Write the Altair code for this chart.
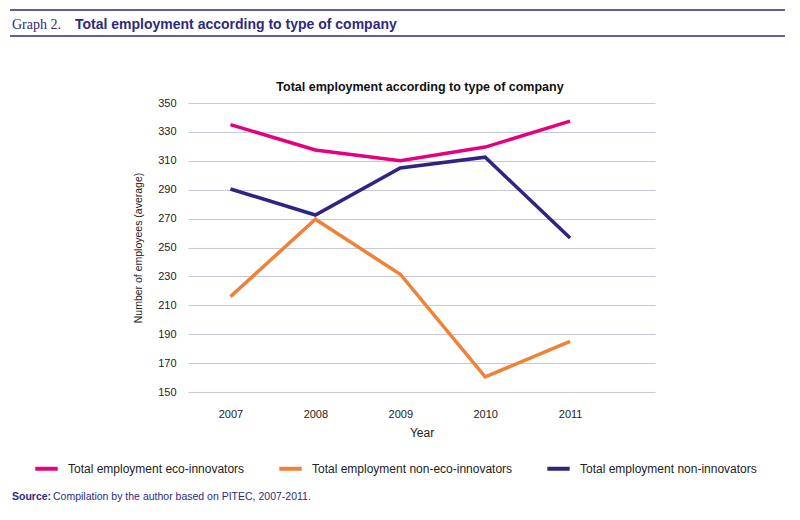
import altair as alt
import pandas as pd

years = [2007, 2008, 2009, 2010, 2011]
eco = [335, 317.5, 310, 319.5, 337.5]
non_eco = [216, 269.5, 231.5, 160.5, 185]
non_innov = [290.5, 272.5, 305, 312.5, 256.5]
series = ["Total employment eco-innovators", "Total employment non-eco-innovators", "Total employment non-innovators"]
colors = ["#e5007d", "#ef8239", "#2f2580"]

rows = []
for s, vals in zip(series, [eco, non_eco, non_innov]):
    for y, v in zip(years, vals):
        rows.append({"Year": y, "value": v, "series": s})
df = pd.DataFrame(rows)

F = "Liberation Sans"
PUR = "#2f2a7c"

lines = alt.Chart(df).mark_line(strokeWidth=3.5).encode(
    x=alt.X("Year:Q", scale=alt.Scale(domain=[2006.5, 2012]),
            axis=alt.Axis(values=years, format="d", grid=False, domain=False, ticks=False,
                          labelPadding=16, labelFontSize=11, labelFont=F, labelColor="#222",
                          title="Year", titleFont=F, titleFontSize=12, titleFontWeight="normal",
                          titlePadding=8, titleColor="#222")),
    y=alt.Y("value:Q", scale=alt.Scale(domain=[150, 350], nice=False, zero=False),
            axis=alt.Axis(values=list(range(150, 351, 20)), domain=False, ticks=False,
                          gridColor="#c9c6de", gridWidth=1, labelPadding=12, labelFontSize=11,
                          labelFont=F, labelColor="#222",
                          title="Number of employees (average)", titleFont=F, titleFontSize=10.5,
                          titleFontWeight="normal", titlePadding=14, titleColor="#222")),
    color=alt.Color("series:N", scale=alt.Scale(domain=series, range=colors),
                    legend=alt.Legend(title=None, orient="none", legendX=-155, legendY=352,
                                      direction="horizontal", columns=3, symbolType="stroke",
                                      symbolStrokeWidth=4, symbolSize=500, labelFont=F,
                                      labelFontSize=12, labelColor="#222", columnPadding=26,
                                      labelOffset=8, labelLimit=0)),
)

def rule(y, x0=-178, x1=602, w=1.5):
    return alt.Chart(pd.DataFrame({"a": [0]})).mark_rule(color=PUR, strokeWidth=w, clip=False).encode(
        x=alt.value(x0), x2=alt.value(x1), y=alt.value(y))

def text(t, x, y, **kw):
    return alt.Chart(pd.DataFrame({"a": [0]})).mark_text(text=t, clip=False, **kw).encode(
        x=alt.value(x), y=alt.value(y))

layers = [
    lines,
    rule(-93), rule(-67), rule(405),
    text("Graph 2.", -176, -78, font="Liberation Serif", fontSize=14, color=PUR, align="left"),
    text("Total employment according to type of company", -113, -78, font=F, fontSize=14,
         fontWeight="bold", color=PUR, align="left"),
    text("Total employment according to type of company", 232, -16, font=F, fontSize=12.5,
         fontWeight="bold", color="#111", align="center"),
    text("Source:", -176, 394, font=F, fontSize=10.5, fontWeight="bold", color=PUR, align="left"),
    text("Compilation by the author based on PITEC, 2007-2011.", -135, 394, font=F, fontSize=10.5,
         color=PUR, align="left"),
]

chart = alt.layer(*layers).properties(
    width=467, height=289,
    autosize=alt.AutoSizeParams(type="none"),
    padding={"left": 180, "top": 95, "right": 130, "bottom": 110},
).configure(background="white").configure_view(stroke=None, strokeWidth=0)

chart.save("out.html", embed_options={"renderer": "svg", "actions": False})
